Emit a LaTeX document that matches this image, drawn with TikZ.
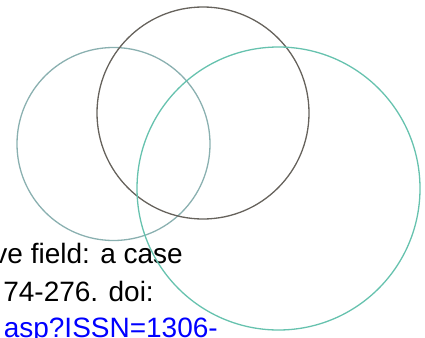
\documentclass[tikz,border=0pt]{standalone}
\usepackage{fontspec}
\setmainfont{Liberation Sans}
\usepackage{xcolor}
\usetikzlibrary{positioning}

\definecolor{ringgray}{HTML}{8AB0B0}
\definecolor{ringdark}{HTML}{66625C}
\definecolor{ringteal}{HTML}{66C2AE}

\begin{document}
\begin{tikzpicture}[
        x=1pt, y=-1pt,
        ring/.style={circle, draw, line width=1.3pt, inner sep=0pt, outer sep=0pt},
        line/.style={anchor=base east, inner sep=0pt, font=\fontsize{28}{34}\selectfont},
    ]
    \useasboundingbox (0,0) rectangle (425,337);
    \clip (0,0) rectangle (425,337);

    \node[line] (l1) at (183,263) {ve field: a case};
    \node[line] (l2) at (154,301.5) {74-276. doi:};
    \node[line, text=blue] (l3) at (218,337) {asp?ISSN=1306-};

    \node[ring, draw=ringgray, minimum size=193pt] (left) at (113.5,144) {};
    \node[ring, draw=ringdark, minimum size=212pt] (top) at (203,113) {};
    \node[ring, draw=ringteal, minimum size=283pt] (right) at (278.5,188.5) {};

\end{tikzpicture}
\end{document}
